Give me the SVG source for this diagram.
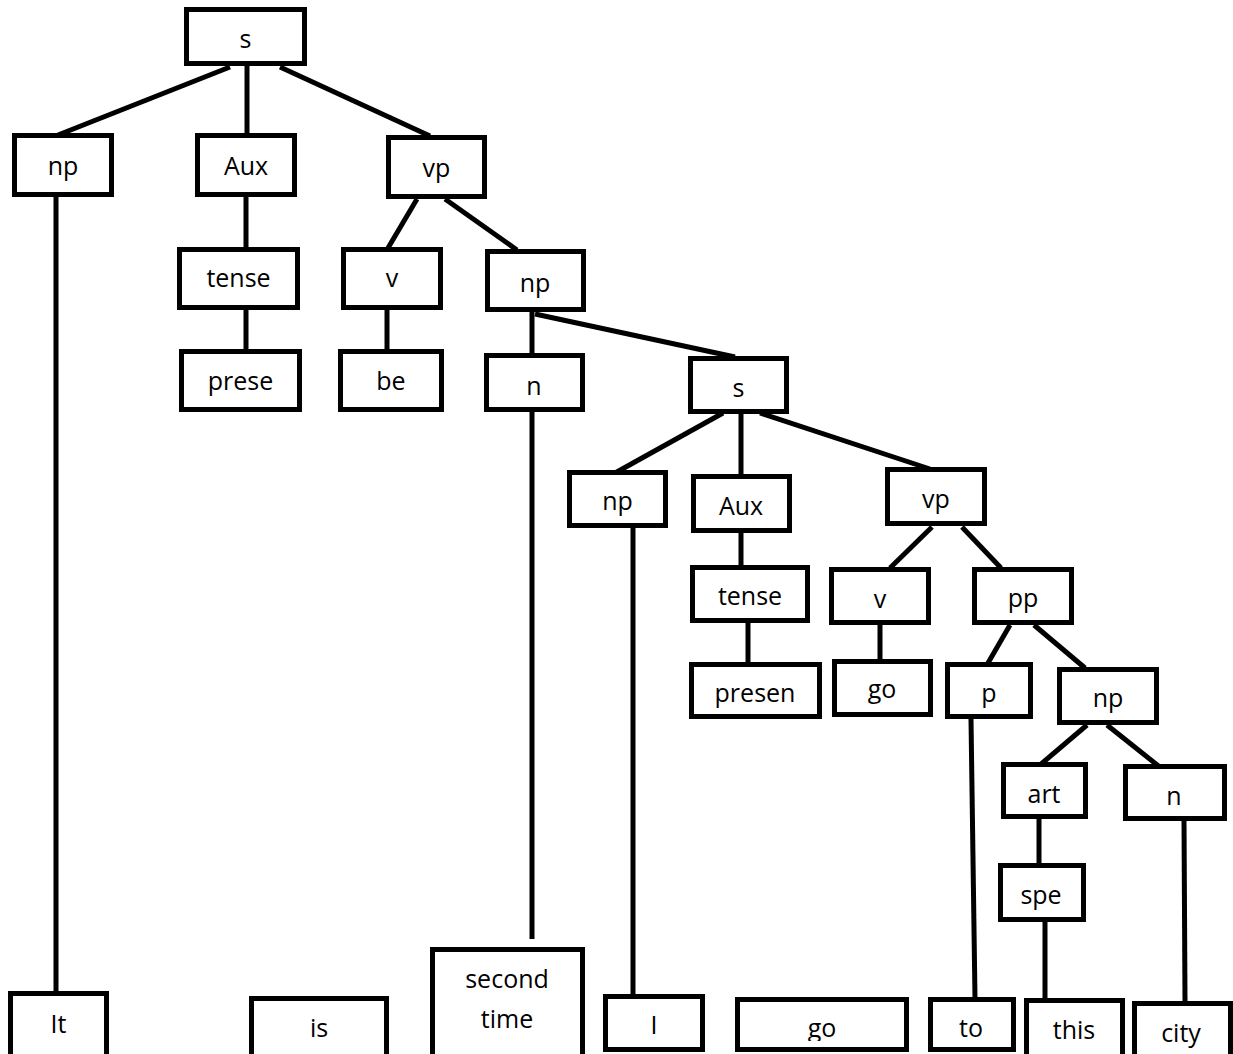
<svg xmlns="http://www.w3.org/2000/svg" width="1233" height="1054" viewBox="0 0 1233 1054">
  <style>
    .box { fill: #fff; stroke: #000; stroke-width: 5; }
    .lbl { font-family: "Open Sans", "Noto Sans", sans-serif; font-size: 25px; fill: #000; text-anchor: middle; }
    #edges line { stroke: #000; stroke-width: 5; }
  </style>
  <defs>
    <clipPath id="go-clip"><rect x="740" y="1000" width="164" height="41"/></clipPath>
  </defs>
  <rect width="1233" height="1054" fill="#fff"/>

  <!-- tree branches -->
  <g id="edges">
    <line x1="230" y1="67" x2="58" y2="135"/>
    <line x1="247" y1="66" x2="247" y2="134"/>
    <line x1="280" y1="67" x2="430" y2="136"/>
    <line x1="56" y1="197" x2="56" y2="992"/>
    <line x1="246" y1="197" x2="246" y2="248"/>
    <line x1="246" y1="310" x2="246" y2="350"/>
    <line x1="417" y1="199" x2="388" y2="248"/>
    <line x1="445" y1="199" x2="517" y2="250"/>
    <line x1="387" y1="310" x2="387" y2="350"/>
    <line x1="532" y1="312" x2="532" y2="354"/>
    <line x1="535" y1="314" x2="735" y2="357"/>
    <line x1="532" y1="412" x2="532" y2="939"/>
    <line x1="723" y1="413" x2="615" y2="473"/>
    <line x1="741" y1="413" x2="741" y2="476"/>
    <line x1="760" y1="413" x2="930" y2="469"/>
    <line x1="633" y1="527" x2="633" y2="995"/>
    <line x1="741" y1="532" x2="741" y2="566"/>
    <line x1="748" y1="623" x2="748" y2="663"/>
    <line x1="932" y1="527" x2="890" y2="568"/>
    <line x1="962" y1="527" x2="1001" y2="568"/>
    <line x1="880" y1="625" x2="880" y2="660"/>
    <line x1="1010" y1="625" x2="988" y2="663"/>
    <line x1="1034" y1="625" x2="1085" y2="668"/>
    <line x1="971" y1="719" x2="975" y2="998"/>
    <line x1="1087" y1="725" x2="1040" y2="765"/>
    <line x1="1107" y1="725" x2="1161" y2="768"/>
    <line x1="1039" y1="819" x2="1039" y2="864"/>
    <line x1="1045" y1="922" x2="1045" y2="999"/>
    <line x1="1184" y1="821" x2="1185" y2="1002"/>
  </g>

  <g id="n-s"><rect class="box" x="186.5" y="9.5" width="118" height="54"/><text class="lbl" x="245.5" y="48">s</text></g>
  <g id="n-np1"><rect class="box" x="14.5" y="135.5" width="97" height="59"/><text class="lbl" x="63" y="175">np</text></g>
  <g id="n-aux1"><rect class="box" x="197.5" y="135.5" width="97" height="59"/><text class="lbl" x="246" y="175">Aux</text></g>
  <g id="n-vp1"><rect class="box" x="388.5" y="137.5" width="96" height="59"/><text class="lbl" x="436.5" y="177">vp</text></g>
  <g id="n-tense1"><rect class="box" x="179.5" y="249.5" width="118" height="58"/><text class="lbl" x="238.5" y="287">tense</text></g>
  <g id="n-v1"><rect class="box" x="343.5" y="249.5" width="97" height="58"/><text class="lbl" x="392" y="287">v</text></g>
  <g id="n-np2"><rect class="box" x="487.5" y="251.5" width="96" height="58"/><text class="lbl" x="535" y="292">np</text></g>
  <g id="n-prese"><rect class="box" x="181.5" y="351.5" width="118" height="58"/><text class="lbl" x="240.5" y="390">prese</text></g>
  <g id="n-be"><rect class="box" x="340.5" y="351.5" width="101" height="58"/><text class="lbl" x="391" y="390">be</text></g>
  <g id="n-n1"><rect class="box" x="486.5" y="355.5" width="96" height="54"/><text class="lbl" x="534" y="395">n</text></g>
  <g id="n-s2"><rect class="box" x="690.5" y="358.5" width="96" height="53"/><text class="lbl" x="738.5" y="397">s</text></g>
  <g id="n-np3"><rect class="box" x="569.5" y="472.5" width="96" height="53"/><text class="lbl" x="617.5" y="510">np</text></g>
  <g id="n-aux2"><rect class="box" x="693.5" y="476.5" width="96" height="54"/><text class="lbl" x="741" y="515">Aux</text></g>
  <g id="n-vp2"><rect class="box" x="887.5" y="469.5" width="97" height="54"/><text class="lbl" x="936" y="508">vp</text></g>
  <g id="n-tense2"><rect class="box" x="692.5" y="567.5" width="115" height="53"/><text class="lbl" x="750" y="605">tense</text></g>
  <g id="n-v2"><rect class="box" x="831.5" y="569.5" width="97" height="53"/><text class="lbl" x="880" y="608">v</text></g>
  <g id="n-pp"><rect class="box" x="974.5" y="569.5" width="97" height="53"/><text class="lbl" x="1023" y="607">pp</text></g>
  <g id="n-presen"><rect class="box" x="691.5" y="664.5" width="128" height="52"/><text class="lbl" x="755" y="702">presen</text></g>
  <g id="n-go1"><rect class="box" x="834.5" y="661.5" width="96" height="53"/><text class="lbl" x="882" y="698">go</text></g>
  <g id="n-p"><rect class="box" x="947.5" y="664.5" width="83" height="52"/><text class="lbl" x="989" y="702">p</text></g>
  <g id="n-np4"><rect class="box" x="1059.5" y="669.5" width="97" height="53"/><text class="lbl" x="1108" y="707">np</text></g>
  <g id="n-art"><rect class="box" x="1003.5" y="764.5" width="82" height="52"/><text class="lbl" x="1044" y="803">art</text></g>
  <g id="n-n2"><rect class="box" x="1125.5" y="766.5" width="99" height="52"/><text class="lbl" x="1174" y="805">n</text></g>
  <g id="n-spe"><rect class="box" x="1000.5" y="865.5" width="83" height="54"/><text class="lbl" x="1041" y="904">spe</text></g>

  <!-- leaf words along the bottom; some boxes run past the lower edge -->
  <g id="w-it"><rect class="box" x="10.5" y="993.5" width="96" height="70"/><text class="lbl" x="58.5" y="1033">It</text></g>
  <g id="w-is"><rect class="box" x="251.5" y="998.5" width="135" height="70"/><text class="lbl" x="319" y="1037">is</text></g>
  <g id="w-second"><rect class="box" x="432.5" y="949.5" width="150" height="120"/><text class="lbl" x="507" y="988">second</text><text class="lbl" x="507" y="1028">time</text></g>
  <g id="w-i"><rect class="box" x="605.5" y="996.5" width="97" height="53"/><text class="lbl" x="654" y="1034">I</text></g>
  <g id="w-go"><rect class="box" x="737.5" y="999.5" width="169" height="50"/><text class="lbl" x="822" y="1037" clip-path="url(#go-clip)">go</text></g>
  <g id="w-to"><rect class="box" x="930.5" y="999.5" width="83" height="50"/><text class="lbl" x="971" y="1037">to</text></g>
  <g id="w-this"><rect class="box" x="1026.5" y="1000.5" width="96" height="70"/><text class="lbl" x="1074" y="1039">this</text></g>
  <g id="w-city"><rect class="box" x="1134.5" y="1003.5" width="96" height="70"/><text class="lbl" x="1181" y="1042">city</text></g>
</svg>
